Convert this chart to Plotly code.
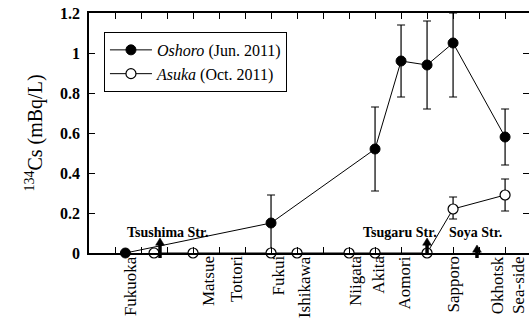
import plotly.graph_objects as go

# ---- data ----
oshoro_x = [1.4, 7, 11, 12, 13, 14, 16]
oshoro_y = [0, 0.15, 0.52, 0.96, 0.94, 1.05, 0.58]
oshoro_err_up = [0, 0.14, 0.21, 0.18, 0.22, 0.15, 0.14]
oshoro_err_dn = [0, 0.15, 0.21, 0.18, 0.22, 0.27, 0.14]

asuka_x = [2.5, 4, 7, 8, 10, 11, 13, 14, 16]
asuka_y = [0, 0, 0, 0, 0, 0, 0, 0.22, 0.29]
asuka_err_up = [0, 0, 0, 0, 0, 0, 0, 0.06, 0.08]
asuka_err_dn = [0, 0, 0, 0, 0, 0, 0, 0.05, 0.08]

station_names = ["Fukuoka", "Matsue", "Tottori", "Fukui", "Ishikawa", "Niigata",
                 "Akita", "Aomori", "Sapporo", "Okhotsk", "Sea-side"]
station_pos = [1.58, 4.58, 5.65, 7.25, 8.27, 10.23, 11.1, 12.15, 14.0, 15.7, 16.5]

strait_names = ["Tsushima Str.", "Tsugaru Str.", "Soya Str."]
strait_text_pos = [3.0, 11.96, 14.85]
strait_arrow_pos = [2.73, 13.0, 14.92]
strait_arrow_tip = [0.075, 0.075, 0.04]
strait_arrow_base = [-0.025, 0.0, -0.025]

y_ticks = [0, 0.2, 0.4, 0.6, 0.8, 1.0, 1.2]
y_ticktext = ["0", "0.2", "0.4", "0.6", "0.8", "1", "1.2"]

Y_MAX = 1.2
X_MAX = 16.92
SERIF = "Liberation Serif, Times New Roman, serif"

fig = go.Figure()
fig.add_trace(go.Scatter(
    x=oshoro_x, y=oshoro_y, mode="lines+markers",
    name="<i>Oshoro</i> (Jun. 2011)",
    line=dict(color="black", width=1),
    marker=dict(symbol="circle", size=10, color="black", line=dict(color="black", width=1)),
    error_y=dict(type="data", symmetric=False, array=oshoro_err_up, arrayminus=oshoro_err_dn,
                 color="black", thickness=1.2, width=4),
    cliponaxis=False,
))
fig.add_trace(go.Scatter(
    x=asuka_x, y=asuka_y, mode="lines+markers",
    name="<i>Asuka</i> (Oct. 2011)",
    line=dict(color="black", width=1),
    marker=dict(symbol="circle", size=10, color="white", line=dict(color="black", width=1.2)),
    error_y=dict(type="data", symmetric=False, array=asuka_err_up, arrayminus=asuka_err_dn,
                 color="black", thickness=1.2, width=4),
    cliponaxis=False,
))
# invisible trace carrying the right-hand tick-only axis
fig.add_trace(go.Scatter(x=[0], y=[0], yaxis="y2", mode="markers",
                         marker=dict(opacity=0), showlegend=False, hoverinfo="skip"))

# strait arrows as shapes (x in data units, y in paper units so they may pass below the axis)
HW = 0.17    # half width of arrow head, x data units
HH = 0.03    # head height, paper units
shapes = []
for pos, tip, base in zip(strait_arrow_pos, strait_arrow_tip, strait_arrow_base):
    tp = tip / Y_MAX
    bp = base / Y_MAX
    shapes.append(dict(type="line", xref="x", yref="paper", x0=pos, x1=pos,
                       y0=bp, y1=tp - HH + 0.005, line=dict(color="black", width=3.5)))
    shapes.append(dict(type="path", xref="x", yref="paper",
                       path=f"M {pos - HW},{tp - HH} L {pos + HW},{tp - HH} L {pos},{tp} Z",
                       fillcolor="black", line=dict(color="black", width=0.5)))

annotations = []
for name, pos in zip(station_names, station_pos):
    annotations.append(dict(x=pos, y=0, xref="x", yref="paper", text=name,
                            textangle=-90, showarrow=False, xanchor="center", yanchor="top",
                            yshift=-1, font=dict(family=SERIF, size=17, color="black")))
for name, pos in zip(strait_names, strait_text_pos):
    annotations.append(dict(x=pos, y=0.105, xref="x", yref="y", text="<b>" + name + "</b>",
                            showarrow=False, xanchor="center", yanchor="middle",
                            font=dict(family=SERIF, size=14, color="black")))

fig.update_layout(
    width=529, height=320,
    margin=dict(l=89, r=0, t=13, b=67),
    plot_bgcolor="white", paper_bgcolor="white",
    font=dict(family=SERIF, color="black"),
    showlegend=True,
    legend=dict(x=0.034, y=0.921, xanchor="left", yanchor="top",
                bordercolor="black", borderwidth=1, bgcolor="white",
                font=dict(family=SERIF, size=16, color="black"),
                tracegroupgap=0, itemwidth=42),
    xaxis=dict(range=[0, X_MAX], showgrid=False, zeroline=False,
               showline=True, linecolor="black", linewidth=1.5, mirror="ticks",
               tickmode="linear", tick0=0, dtick=1, ticks="inside", ticklen=6,
               tickcolor="black", tickwidth=1, showticklabels=False),
    yaxis=dict(range=[0, Y_MAX], showgrid=False, zeroline=False,
               showline=True, linecolor="black", linewidth=1.5, mirror=False,
               tickmode="array", tickvals=y_ticks, ticktext=y_ticktext,
               ticks="inside", ticklen=6, tickcolor="black", tickwidth=1,
               tickfont=dict(family=SERIF, size=16, color="black", weight="bold"),
               ticklabelstandoff=4,
               title=dict(text="<sup>134</sup>Cs (mBq/L)",
                          font=dict(family=SERIF, size=20, color="black"), standoff=12)),
    yaxis2=dict(range=[0, Y_MAX], overlaying="y", side="right", showgrid=False,
                zeroline=False, showline=False, tickmode="array", tickvals=y_ticks,
                ticks="inside", ticklen=6, tickcolor="black", tickwidth=1,
                showticklabels=False),
    shapes=shapes,
    annotations=annotations,
)

fig.write_html("out.html")
